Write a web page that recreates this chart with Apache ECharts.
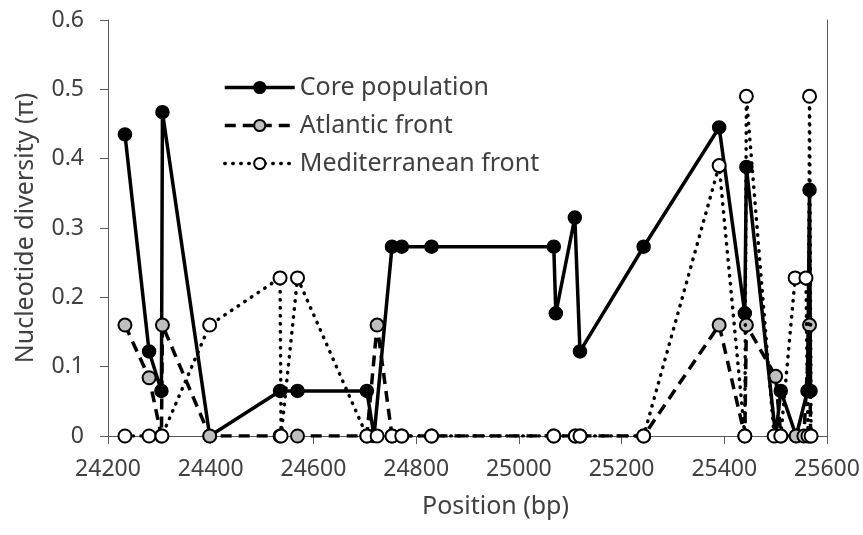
<!DOCTYPE html>
<html>
<head>
<meta charset="utf-8">
<script src="https://cdn.jsdelivr.net/npm/echarts@6/dist/echarts.min.js"></script>
<style>
  html, body { margin: 0; padding: 0; background: #fff; }
  #chart { width: 863px; height: 535px; }
</style>
</head>
<body>
<div id="chart"></div>
<script>
// positions (bp) and nucleotide diversity
var corePos = [24233, 24280, 24304, 24306, 24398, 24535, 24569, 24704, 24718, 24753, 24772, 24830,
  25068, 25072, 25109, 25119, 25243, 25390, 25440, 25443, 25500, 25510, 25540, 25562, 25566, 25568];
var corePi = [0.435, 0.122, 0.065, 0.467, 0, 0.065, 0.065, 0.065, 0, 0.273, 0.273, 0.273,
  0.273, 0.177, 0.315, 0.122, 0.273, 0.445, 0.177, 0.388, 0, 0.065, 0, 0.065, 0.355, 0.065];

var atlPos = [24233, 24280, 24304, 24306, 24398, 24535, 24569, 24704, 24724, 24753, 24772, 24830,
  25068, 25110, 25119, 25243, 25390, 25440, 25443, 25500, 25510, 25540, 25555, 25566, 25568];
var atlPi = [0.16, 0.084, 0, 0.16, 0, 0, 0, 0, 0.16, 0, 0, 0,
  0, 0, 0, 0, 0.16, 0, 0.16, 0.086, 0, 0, 0, 0.16, 0];

var medPos = [24233, 24280, 24305, 24398, 24535, 24537, 24569, 24704, 24724, 24753, 24772, 24830,
  25068, 25110, 25119, 25243, 25390, 25440, 25443, 25497, 25510, 25538, 25559, 25563, 25566, 25569];
var medPi = [0, 0, 0, 0.16, 0.228, 0, 0.228, 0, 0, 0, 0, 0,
  0, 0, 0, 0, 0.39, 0, 0.49, 0, 0, 0.228, 0.228, 0, 0.49, 0];

var seriesNames = ['Core population', 'Atlantic front', 'Mediterranean front'];

function pairs(xs, ys) {
  var out = [];
  for (var i = 0; i < xs.length; i++) out.push([xs[i], ys[i]]);
  return out;
}

var textColor = '#404040';
var axisColor = '#595959';
var font = 'Noto Sans';

var solidLine = { color: '#000', width: 3.5, type: 'solid' };
var dashLine = { color: '#000', width: 3.5, type: [11, 7] };
var dotLine = { color: '#000', width: 3.5, type: [0.5, 7.5], cap: 'round' };

var dom = document.getElementById('chart');
var myChart = echarts.init(dom, null, { renderer: 'canvas' });

var option = {
  animation: false,
  backgroundColor: '#fff',
  grid: { left: 108, right: 36, top: 20, bottom: 99 },
  legend: {
    orient: 'vertical',
    left: 218,
    top: 70,
    itemWidth: 70,
    itemHeight: 14,
    itemGap: 13,
    data: [
      { name: seriesNames[0], lineStyle: solidLine },
      { name: seriesNames[1], lineStyle: dashLine },
      { name: seriesNames[2], lineStyle: dotLine }
    ],
    textStyle: { color: textColor, fontSize: 25, fontFamily: font, lineHeight: 25 }
  },
  xAxis: {
    type: 'value',
    min: 24200,
    max: 25600,
    interval: 200,
    name: 'Position (bp)',
    nameLocation: 'middle',
    nameGap: 58,
    nameMoveOverlap: false,
    nameTextStyle: { color: textColor, fontSize: 25, fontFamily: font, padding: [0, 0, 0, 56] },
    splitLine: { show: false },
    axisLine: { lineStyle: { color: axisColor, width: 1 } },
    axisTick: { inside: false, length: 8, lineStyle: { color: axisColor } },
    axisLabel: {
      color: textColor, fontSize: 23, fontFamily: font, margin: 22,
      formatter: function (v) { return String(v); }
    }
  },
  yAxis: [{
    type: 'value',
    min: 0,
    max: 0.6,
    interval: 0.1,
    name: 'Nucleotide diversity (\u03c0)',
    nameLocation: 'middle',
    nameGap: 70,
    nameMoveOverlap: false,
    nameTextStyle: { color: textColor, fontSize: 25, fontFamily: font },
    splitLine: { show: false },
    axisLine: { show: true, lineStyle: { color: axisColor, width: 1 } },
    axisTick: { show: true, inside: false, length: 8, lineStyle: { color: axisColor } },
    axisLabel: { color: textColor, fontSize: 23, fontFamily: font, margin: 24 }
  }, {
    type: 'value',
    position: 'right',
    min: 0,
    max: 0.6,
    interval: 0.1,
    splitLine: { show: false },
    axisLine: { show: true, lineStyle: { color: axisColor, width: 1 } },
    axisTick: { show: false },
    axisLabel: { show: false }
  }],
  series: [
    {
      name: seriesNames[0],
      type: 'line',
      data: pairs(corePos, corePi),
      symbol: 'circle',
      symbolSize: 13,
      showAllSymbol: true,
      lineStyle: solidLine,
      itemStyle: { color: '#000', borderColor: '#000', borderWidth: 1.5 },
      z: 2
    },
    {
      name: seriesNames[1],
      type: 'line',
      data: pairs(atlPos, atlPi),
      symbol: 'circle',
      symbolSize: 13,
      showAllSymbol: true,
      lineStyle: dashLine,
      itemStyle: { color: '#bfbfbf', borderColor: '#000', borderWidth: 2 },
      z: 3
    },
    {
      name: seriesNames[2],
      type: 'line',
      data: pairs(medPos, medPi),
      symbol: 'circle',
      symbolSize: 13,
      showAllSymbol: true,
      lineStyle: dotLine,
      itemStyle: { color: '#fff', borderColor: '#000', borderWidth: 2 },
      z: 4
    }
  ]
};

if (option && typeof option === 'object') {
  myChart.setOption(option, true);
}
</script>
</body>
</html>
